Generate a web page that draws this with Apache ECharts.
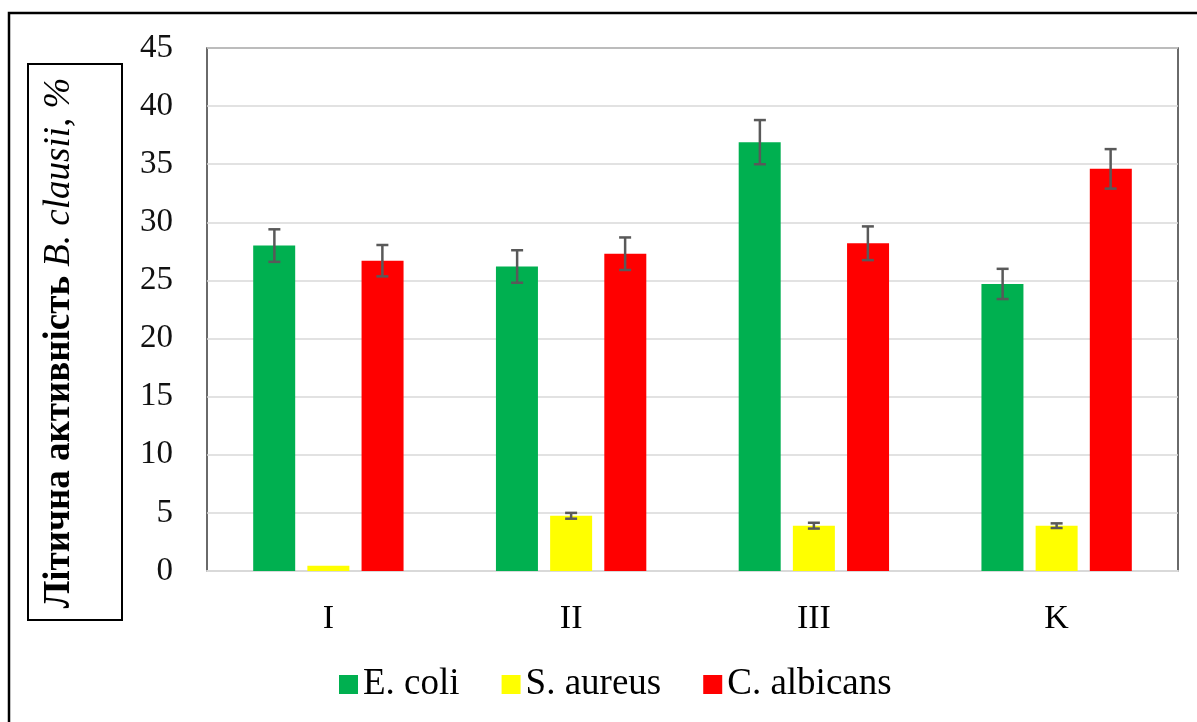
<!DOCTYPE html>
<html>
<head>
<meta charset="utf-8">
<script src="https://cdn.jsdelivr.net/npm/echarts@6/dist/echarts.min.js"></script>
<style>
  html, body { margin: 0; padding: 0; background: #fff; }
  #chart { width: 1197px; height: 722px; }
</style>
</head>
<body>
<div id="chart"></div>
<script>
// categories and values
const groups = ['I', 'II', 'III', 'K'];
const seriesNames = ['E. coli', 'S. aureus', 'C. albicans'];
const ecoli = [28.0, 26.2, 36.9, 24.7];
const ecoliErr = [1.4, 1.4, 1.9, 1.3];
const saureus = [0.45, 4.75, 3.9, 3.9];
const saureusErr = [0, 0.25, 0.25, 0.2];
const calbicans = [26.7, 27.3, 28.2, 34.6];
const calbicansErr = [1.35, 1.4, 1.45, 1.7];
const yTicks = [0, 5, 10, 15, 20, 25, 30, 35, 40, 45];

const colors = ['#00b050', '#ffff00', '#ff0000'];
const barW = 42;
const gapW = 12;
const serif = '"Liberation Serif", "Times New Roman", serif';

const vals = [ecoli, saureus, calbicans];
const errs = [ecoliErr, saureusErr, calbicansErr];

// error bar points: [category, value, err, seriesIdx]
let errData = [];
for (let s = 0; s < vals.length; s++) {
    for (let i = 0; i < groups.length; i++) {
        errData.push([i, vals[s][i], errs[s][i], s]);
    }
}

function renderErr(params, api) {
    let cat = api.value(0);
    let v = api.value(1);
    let e = api.value(2);
    let s = api.value(3);
    if (!e) return;
    let off = (s - 1) * (barW + gapW);
    let top = api.coord([cat, v + e]);
    let bot = api.coord([cat, v - e]);
    let x = top[0] + off;
    let cap = 6;
    let st = { stroke: '#595959', lineWidth: 2.5 };
    return {
        type: 'group',
        children: [
            { type: 'line', shape: { x1: x, y1: top[1], x2: x, y2: bot[1] }, style: st },
            { type: 'line', shape: { x1: x - cap, y1: top[1], x2: x + cap, y2: top[1] }, style: st },
            { type: 'line', shape: { x1: x - cap, y1: bot[1], x2: x + cap, y2: bot[1] }, style: st }
        ]
    };
}

let chart = echarts.init(document.getElementById('chart'));
chart.setOption({
    animation: false,
    backgroundColor: '#fff',
    graphic: [
        {
            type: 'rect',
            shape: { x: 9, y: 13, width: 1250, height: 760 },
            style: { fill: 'none', stroke: '#000', lineWidth: 2.5 },
            z: 0
        },
        {
            type: 'rect',
            shape: { x: 28, y: 64, width: 94, height: 556 },
            style: { fill: 'none', stroke: '#000', lineWidth: 2 }
        },
        {
            type: 'text',
            x: 59,
            y: 343,
            rotation: Math.PI / 2,
            style: {
                text: '{b|Літична активність }{i|B. clausii}{n|, %}',
                align: 'center',
                verticalAlign: 'middle',
                rich: {
                    b: { fontFamily: serif, fontWeight: 'bold', fontSize: 37, fill: '#000' },
                    i: { fontFamily: serif, fontStyle: 'italic', fontSize: 37, fill: '#000' },
                    n: { fontFamily: serif, fontStyle: 'italic', fontSize: 37, fill: '#000' }
                }
            }
        }
    ],
    grid: {
        left: 207,
        right: 19,
        top: 48,
        bottom: 151,
        show: true,
        borderColor: '#3a3a3a',
        borderWidth: 1.5
    },
    legend: {
        data: seriesNames,
        bottom: 14,
        left: 334,
        icon: 'rect',
        itemWidth: 19,
        itemHeight: 19,
        itemGap: 42,
        textStyle: { fontFamily: serif, fontSize: 37, color: '#000' }
    },
    xAxis: {
        type: 'category',
        data: groups,
        axisTick: { show: false },
        axisLine: { show: true, lineStyle: { color: '#d9d9d9', width: 2 } },
        axisLabel: { fontFamily: serif, fontSize: 34, color: '#000', margin: 31 }
    },
    yAxis: {
        type: 'value',
        min: 0,
        max: 45,
        interval: 5,
        axisLine: { show: false },
        axisTick: { show: false },
        splitLine: { lineStyle: { color: '#d9d9d9', width: 1.5 } },
        axisLabel: {
            fontFamily: serif,
            fontSize: 33,
            color: '#111',
            margin: 34,
            formatter: function (v) { return yTicks.indexOf(v) >= 0 ? String(v) : ''; }
        }
    },
    series: [
        { name: seriesNames[0], type: 'bar', data: ecoli, barWidth: barW, barGap: '29%', itemStyle: { color: colors[0] } },
        { name: seriesNames[1], type: 'bar', data: saureus, barWidth: barW, barGap: '29%', itemStyle: { color: colors[1] } },
        { name: seriesNames[2], type: 'bar', data: calbicans, barWidth: barW, barGap: '29%', itemStyle: { color: colors[2] } },
        {
            type: 'custom',
            renderItem: renderErr,
            data: errData,
            encode: { x: 0, y: 1 },
            z: 5,
            silent: true
        }
    ]
});
</script>
</body>
</html>
